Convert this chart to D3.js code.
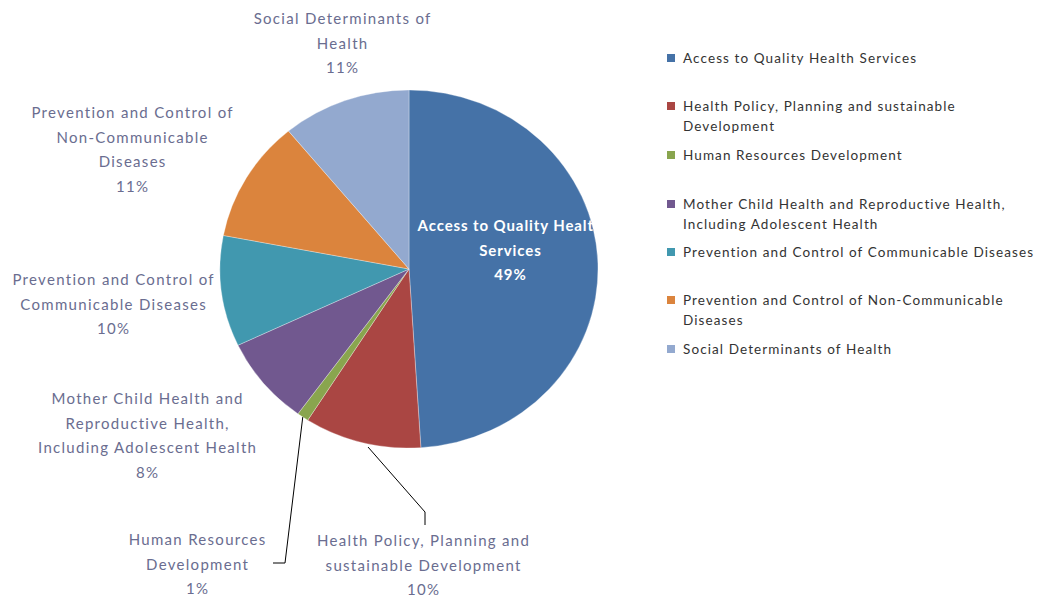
<!DOCTYPE html>
<html>
<head>
<meta charset="utf-8">
<script src="https://cdn.jsdelivr.net/npm/d3@7"></script>
<style>
  html, body { margin: 0; padding: 0; background: #fff; }
  svg { display: block; }
</style>
</head>
<body>
<svg id="chart" width="1039" height="598"></svg>
<script>
// Budget share by programme area
const categories = [
  "Access to Quality Health Services",
  "Health Policy, Planning and sustainable Development",
  "Human Resources Development",
  "Mother Child Health and Reproductive Health, Including Adolescent Health",
  "Prevention and Control of Communicable Diseases",
  "Prevention and Control of Non-Communicable Diseases",
  "Social Determinants of Health"
];
const shares = [49, 10, 1, 8, 10, 11, 11];
const colors = ["#4572A7", "#AA4643", "#89A54E", "#71588F", "#4198AF", "#DB843D", "#93A9CF"];

// Wrapped label lines for the slice labels (last line is the percentage)
const sliceLabelLines = [
  ["Access to Quality Health", "Services"],
  ["Health Policy, Planning and", "sustainable Development"],
  ["Human Resources", "Development"],
  ["Mother Child Health and", "Reproductive Health,", "Including Adolescent Health"],
  ["Prevention and Control of", "Communicable Diseases"],
  ["Prevention and Control of", "Non-Communicable", "Diseases"],
  ["Social Determinants of", "Health"]
];
// Wrapped legend entries
const legendLines = [
  ["Access to Quality Health Services"],
  ["Health Policy, Planning and sustainable", "Development"],
  ["Human Resources Development"],
  ["Mother Child Health and Reproductive Health,", "Including Adolescent Health"],
  ["Prevention and Control of Communicable Diseases"],
  ["Prevention and Control of Non-Communicable", "Diseases"],
  ["Social Determinants of Health"]
];

const svg = d3.select("#chart");
const font = "Lato, 'Open Sans', sans-serif";

const cx = 409, cy = 269, ry = 179, rx = 189;
const sx = rx / ry;

const pie = d3.pie().sort(null).value(d => d);
const arcs = pie(shares);
const arc = d3.arc().innerRadius(0).outerRadius(ry);

const pieG = svg.append("g").attr("transform", `translate(${cx},${cy}) scale(${sx},1)`);
pieG.selectAll("path")
  .data(arcs)
  .join("path")
  .attr("d", arc)
  .attr("fill", (d, i) => colors[i])
  .attr("stroke", "#ffffff")
  .attr("stroke-opacity", 0.5)
  .attr("stroke-width", 0.6);

// Label anchor positions (centre x, first line y) for each slice
const labelPos = [
  [510, 226],
  [423, 541],
  [197, 540],
  [147, 399],
  [113, 280],
  [132, 113],
  [342, 19]
];
const lineH = 24.5;

// Clip for the inside label so it stops at the plot edge
svg.append("defs").append("clipPath").attr("id", "plotClip")
  .append("rect").attr("x", 0).attr("y", 0).attr("width", 598).attr("height", 598);

const labels = svg.append("g").attr("font-family", font);
arcs.forEach((a, i) => {
  const lines = sliceLabelLines[i].concat([shares[i] + "%"]);
  const inside = i === 0;
  const ls = inside ? 0.9 : 1.3;
  const t = labels.append("text")
    .attr("text-anchor", "middle")
    .attr("font-size", 15)
    .attr("letter-spacing", ls)
    .attr("fill", inside ? "#ffffff" : "#6a6d90")
    .attr("font-weight", inside ? "bold" : "normal")
    .attr("clip-path", inside ? "url(#plotClip)" : null);
  lines.forEach((s, k) => {
    t.append("tspan")
      .attr("x", labelPos[i][0] + ls / 2)
      .attr("y", labelPos[i][1] + k * lineH)
      .attr("dy", "0.35em")
      .text(s);
  });
});

// Leader lines from slice edges to outside labels
const pt = (i) => {
  const m = (arcs[i].startAngle + arcs[i].endAngle) / 2;
  return [cx + sx * ry * Math.sin(m), cy - ry * Math.cos(m)];
};
const leaders = [
  { i: 2, pts: [pt(2), [285, 563], [273, 563]] },
  { i: 1, pts: [[368, 447], [425, 512], [425, 525]] }
];
svg.append("g").selectAll("path")
  .data(leaders)
  .join("path")
  .attr("d", d => d3.line()(d.pts))
  .attr("fill", "none")
  .attr("stroke", "#000")
  .attr("stroke-width", 1);

// Legend
const legendRows = [58, 106, 155, 204, 252, 300, 349];
const legend = svg.append("g").attr("font-family", font).attr("font-size", 13.5)
  .attr("letter-spacing", 1.1).attr("fill", "#333");
categories.forEach((c, i) => {
  const y = legendRows[i];
  legend.append("rect")
    .attr("x", 667).attr("y", y - 4).attr("width", 8).attr("height", 8)
    .attr("fill", colors[i]);
  const t = legend.append("text");
  legendLines[i].forEach((s, k) => {
    t.append("tspan").attr("x", 683).attr("y", y + k * 20).attr("dy", "0.35em").text(s);
  });
});
</script>
</body>
</html>
